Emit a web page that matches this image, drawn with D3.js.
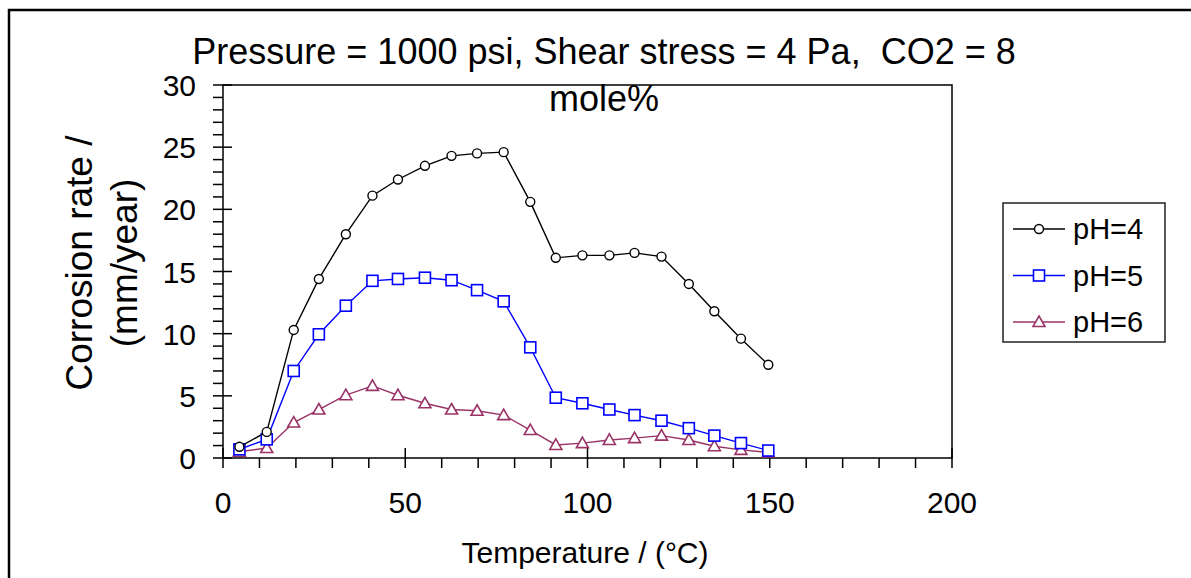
<!DOCTYPE html>
<html>
<head>
<meta charset="utf-8">
<script src="https://cdn.jsdelivr.net/npm/d3@7"></script>
<style>
  body { margin: 0; background: #fff; }
  svg { display: block; font-family: Arial, "Liberation Sans", sans-serif; }
</style>
</head>
<body>
<svg id="chart" width="1191" height="578"></svg>
<script>
// temperatures (°C)
const temps = [4.5, 12, 19.4, 26.3, 33.7, 41, 48, 55.4, 62.7, 69.7, 77, 84.3, 91.3, 98.6, 106, 112.9, 120.3, 127.8, 134.8, 142.1, 149.6];

// corrosion rate (mm/year) per pH
const ph4 = [0.9, 2.1, 10.3, 14.4, 18.0, 21.1, 22.4, 23.5, 24.3, 24.5, 24.6, 20.6, 16.1, 16.3, 16.3, 16.5, 16.2, 14.0, 11.8, 9.6, 7.5];
const ph5 = [0.7, 1.5, 7.0, 9.95, 12.25, 14.25, 14.4, 14.5, 14.3, 13.5, 12.6, 8.9, 4.85, 4.4, 3.9, 3.45, 3.0, 2.4, 1.8, 1.2, 0.6];
const ph6 = [0.5, 0.8, 2.85, 3.9, 5.05, 5.8, 5.05, 4.4, 3.9, 3.8, 3.45, 2.25, 1.05, 1.2, 1.45, 1.6, 1.8, 1.45, 0.95, 0.65, 0.45];

const seriesNames = ["pH=4", "pH=5", "pH=6"];
const xTicks = [0, 50, 100, 150, 200];
const yTicks = [0, 5, 10, 15, 20, 25, 30];

const titleLines = ["Pressure = 1000 psi, Shear stress = 4 Pa,  CO2 = 8", "mole%"];

const svg = d3.select("#chart");

// outer frame (cut off by the window at right and bottom)
svg.append("path")
  .attr("d", "M9,600V10H1200")
  .attr("fill", "none")
  .attr("stroke", "#000")
  .attr("stroke-width", 2.5);

const plot = { left: 223, right: 952, top: 85, bottom: 458 };

const x = d3.scaleLinear().domain([0, 200]).range([plot.left, plot.right]);
const y = d3.scaleLinear().domain([0, 30]).range([plot.bottom, plot.top]);

const series = [
  { name: seriesNames[0], values: ph4, colour: "#000000", symbol: "circle" },
  { name: seriesNames[1], values: ph5, colour: "#0000ff", symbol: "square" },
  { name: seriesNames[2], values: ph6, colour: "#993366", symbol: "triangle" },
];

// plot box
svg.append("rect")
  .attr("x", plot.left)
  .attr("y", plot.top)
  .attr("width", plot.right - plot.left)
  .attr("height", plot.bottom - plot.top)
  .attr("fill", "none")
  .attr("stroke", "#000")
  .attr("stroke-width", 1.5);

// x axis: minor ticks outside only, major ticks cross the axis
const xAxis = svg.append("g").attr("class", "x axis");
xAxis.selectAll(".minor")
  .data(d3.range(0, 201, 10))
  .join("line")
  .attr("x1", (d) => x(d))
  .attr("x2", (d) => x(d))
  .attr("y1", (d) => (d % 50 === 0 ? plot.bottom - 10 : plot.bottom))
  .attr("y2", plot.bottom + 10)
  .attr("stroke", "#000")
  .attr("stroke-width", 1.5);

xAxis.selectAll("text")
  .data(xTicks)
  .join("text")
  .attr("x", (d) => x(d))
  .attr("y", 513)
  .attr("text-anchor", "middle")
  .style("font-size", "30px")
  .text((d) => d);

// y axis
const yAxis = svg.append("g").attr("class", "y axis");
yAxis.selectAll("line")
  .data(d3.range(0, 31, 1))
  .join("line")
  .attr("x1", plot.left - 10)
  .attr("x2", (d) => (d % 5 === 0 ? plot.left + 9 : plot.left))
  .attr("y1", (d) => y(d))
  .attr("y2", (d) => y(d))
  .attr("stroke", "#000")
  .attr("stroke-width", 1.5);

yAxis.selectAll("text")
  .data(yTicks)
  .join("text")
  .attr("x", 196)
  .attr("y", (d) => y(d) + 11)
  .attr("text-anchor", "end")
  .style("font-size", "30px")
  .text((d) => d);

// axis titles
svg.append("text")
  .attr("x", 585)
  .attr("y", 563)
  .attr("text-anchor", "middle")
  .style("font-size", "30px")
  .text("Temperature / (°C)");

const yTitle = svg.append("text")
  .attr("transform", "translate(0,263) rotate(-90)")
  .attr("text-anchor", "middle")
  .style("font-size", "37px");
yTitle.append("tspan").attr("x", 0).attr("y", 92).text("Corrosion rate /");
yTitle.append("tspan").attr("x", 0).attr("y", 137).text("(mm/year)");

// title (keep the double space before CO2)
svg.selectAll(".title")
  .data(titleLines)
  .join("text")
  .attr("class", "title")
  .attr("x", 604)
  .attr("y", (d, i) => 64 + i * 47)
  .attr("text-anchor", "middle")
  .style("font-size", "36px")
  .style("white-space", "pre")
  .text((d) => d);

// marker drawing
function drawMarker(g, symbol, colour) {
  if (symbol === "circle") {
    g.append("circle").attr("r", 4.5)
      .attr("fill", "#fff").attr("stroke", colour).attr("stroke-width", 1.4);
  } else if (symbol === "square") {
    g.append("rect").attr("x", -5.5).attr("y", -5.5).attr("width", 11).attr("height", 11)
      .attr("fill", "#fff").attr("stroke", colour).attr("stroke-width", 1.6);
  } else {
    g.append("path").attr("d", "M0,-6L6,4.5H-6Z")
      .attr("fill", "#fff").attr("stroke", colour).attr("stroke-width", 1.6);
  }
}

const line = d3.line()
  .x((d) => x(d[0]))
  .y((d) => y(d[1]));

// draw pH=6 first so black/blue sit on top like the original
[...series].reverse().forEach((s) => {
  const pts = temps.map((t, i) => [t, s.values[i]]);
  const g = svg.append("g").attr("class", "series");
  g.append("path")
    .datum(pts)
    .attr("d", line)
    .attr("fill", "none")
    .attr("stroke", s.colour)
    .attr("stroke-width", 1.4);
  g.selectAll(".pt")
    .data(pts)
    .join("g")
    .attr("class", "pt")
    .attr("transform", (d) => `translate(${x(d[0])},${y(d[1])})`)
    .each(function () {
      drawMarker(d3.select(this), s.symbol, s.colour);
    });
});

// legend
const legend = svg.append("g").attr("class", "legend");
legend.append("rect")
  .attr("x", 1003)
  .attr("y", 203)
  .attr("width", 162)
  .attr("height", 139)
  .attr("fill", "#fff")
  .attr("stroke", "#222")
  .attr("stroke-width", 1.5);

series.forEach((s, i) => {
  const ly = 229 + i * 46.5;
  const row = legend.append("g");
  row.append("line")
    .attr("x1", 1013).attr("x2", 1065)
    .attr("y1", ly).attr("y2", ly)
    .attr("stroke", s.colour)
    .attr("stroke-width", 1.4);
  const m = row.append("g").attr("transform", `translate(1039,${ly})`);
  drawMarker(m, s.symbol, s.colour);
  row.append("text")
    .attr("x", 1073)
    .attr("y", ly + 10)
    .style("font-size", "29px")
    .text(s.name);
});
</script>
</body>
</html>
